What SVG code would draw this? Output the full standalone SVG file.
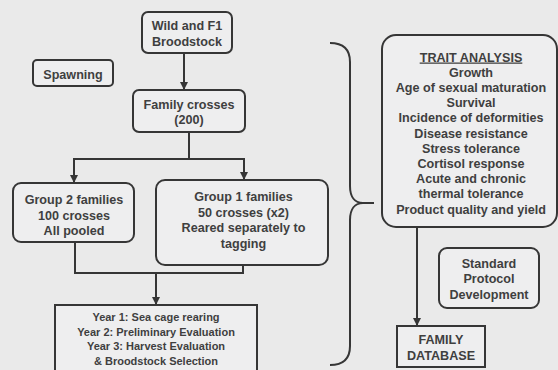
<svg xmlns="http://www.w3.org/2000/svg" width="558" height="370" viewBox="0 0 558 370">
  <defs>
    <style>
      .box { fill: #eeeeef; stroke: #363636; stroke-width: 2; }
      .lbl { font-family: "Liberation Sans", Arial, sans-serif; font-weight: bold; font-size: 12.6px; fill: #3f3f3f; text-anchor: middle; }
      .sm { font-size: 11px; }
      .wire { fill: none; stroke: #363636; stroke-width: 2; }
    </style>
    <marker id="arrow" viewBox="0 0 8 8" refX="8" refY="4" markerWidth="8" markerHeight="8" markerUnits="userSpaceOnUse" orient="auto">
      <path d="M0,0 L8,4 L0,8 Z" fill="#363636"/>
    </marker>
  </defs>

  <rect width="558" height="370" fill="#eaeaea"/>

  <g id="connectors">
    <line class="wire" x1="184" y1="53" x2="184" y2="90" marker-end="url(#arrow)"/>
    <polyline class="wire" points="189,132 189,159"/>
    <polyline class="wire" points="74,159 244,159"/>
    <line class="wire" x1="74" y1="158" x2="74" y2="183" marker-end="url(#arrow)"/>
    <line class="wire" x1="244" y1="158" x2="244" y2="180" marker-end="url(#arrow)"/>
    <polyline class="wire" points="75,242 75,273 243,273 243,265"/>
    <line class="wire" x1="156" y1="273" x2="156" y2="305" marker-end="url(#arrow)"/>
    <line class="wire" x1="417" y1="227" x2="417" y2="326" marker-end="url(#arrow)"/>
    <path class="wire" d="M330,43 C344,43 350,50 350,62 L350,186 C350,197 355,203 363,203 L374,203 L363,203 C355,203 350,209 350,220 L350,346 C350,358 344,365 330,365"/>
  </g>

  <g id="broodstock">
    <rect class="box" x="142" y="12" width="90" height="41" rx="6"/>
    <text class="lbl" x="187" y="29.5">Wild and F1</text>
    <text class="lbl" x="187" y="45.5">Broodstock</text>
  </g>

  <g id="spawning">
    <rect class="box" x="33" y="60" width="80" height="26" rx="4"/>
    <text class="lbl" x="73" y="78.5">Spawning</text>
  </g>

  <g id="family-crosses">
    <rect class="box" x="133" y="90" width="112" height="42" rx="6"/>
    <text class="lbl" x="189" y="108.8">Family crosses</text>
    <text class="lbl" x="189" y="124">(200)</text>
  </g>

  <g id="group2">
    <rect class="box" x="13" y="183" width="121" height="59" rx="8"/>
    <text class="lbl" x="74" y="204">Group 2 families</text>
    <text class="lbl" x="74" y="219.5">100 crosses</text>
    <text class="lbl" x="74" y="234.5">All pooled</text>
  </g>

  <g id="group1">
    <rect class="box" x="156" y="180" width="172" height="85" rx="9"/>
    <text class="lbl" x="243.5" y="201">Group 1 families</text>
    <text class="lbl" x="243.5" y="216.5">50 crosses (x2)</text>
    <text class="lbl" x="243.5" y="232">Reared separately to</text>
    <text class="lbl" x="243.5" y="247.5">tagging</text>
  </g>

  <g id="evaluation">
    <rect class="box" x="55" y="305" width="202" height="70"/>
    <text class="lbl sm" x="156" y="321">Year 1: Sea cage rearing</text>
    <text class="lbl sm" x="156" y="335.5">Year 2: Preliminary Evaluation</text>
    <text class="lbl sm" x="156" y="350">Year 3: Harvest Evaluation</text>
    <text class="lbl sm" x="156" y="364.5">&amp; Broodstock Selection</text>
  </g>

  <g id="trait-analysis">
    <rect class="box" x="382" y="35" width="175" height="192" rx="14"/>
    <text class="lbl" x="471" y="61.5" text-decoration="underline">TRAIT ANALYSIS</text>
    <text class="lbl" x="471" y="76.7">Growth</text>
    <text class="lbl" x="471" y="91.9">Age of sexual maturation</text>
    <text class="lbl" x="471" y="107.1">Survival</text>
    <text class="lbl" x="471" y="122.3">Incidence of deformities</text>
    <text class="lbl" x="471" y="137.5">Disease resistance</text>
    <text class="lbl" x="471" y="152.7">Stress tolerance</text>
    <text class="lbl" x="471" y="167.9">Cortisol response</text>
    <text class="lbl" x="471" y="183.1">Acute and chronic</text>
    <text class="lbl" x="471" y="198.3">thermal tolerance</text>
    <text class="lbl" x="471" y="213.5">Product quality and yield</text>
  </g>

  <g id="protocol">
    <rect class="box" x="439" y="248" width="100" height="60" rx="8"/>
    <text class="lbl" x="489" y="267.5">Standard</text>
    <text class="lbl" x="489" y="283">Protocol</text>
    <text class="lbl" x="489" y="298.5">Development</text>
  </g>

  <g id="database">
    <rect class="box" x="397" y="326" width="88" height="41"/>
    <text class="lbl" x="441" y="343.5">FAMILY</text>
    <text class="lbl" x="441" y="359.5">DATABASE</text>
  </g>
</svg>
